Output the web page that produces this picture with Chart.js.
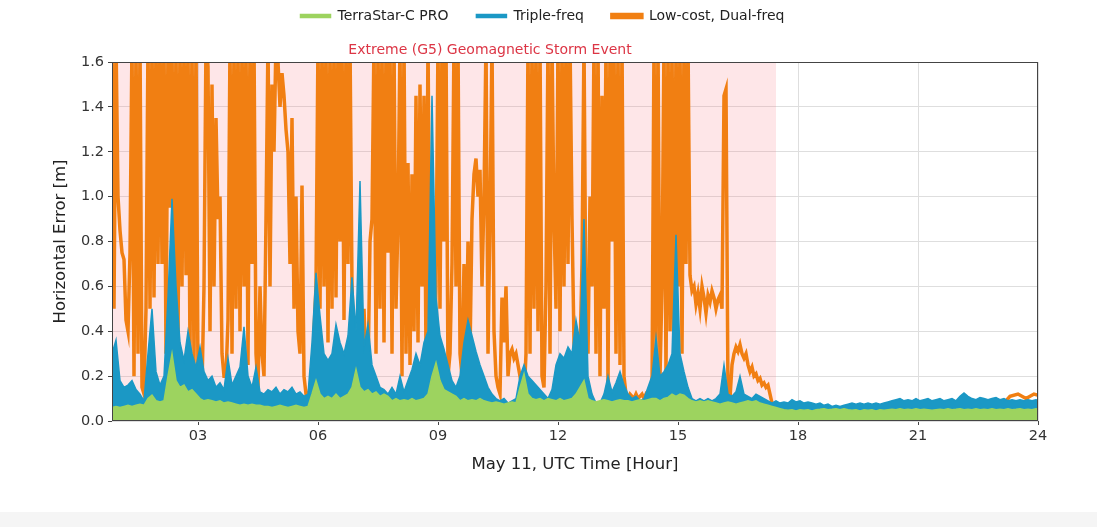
<!DOCTYPE html>
<html>
<head>
<meta charset="utf-8">
<script src="https://cdn.jsdelivr.net/npm/chart.js@4.4.1/dist/chart.umd.min.js"></script>
<style>
  html, body { margin: 0; padding: 0; background: #fff; }
  #wrap { width: 1097px; height: 527px; position: relative; }
</style>
</head>
<body>
<div id="wrap"><canvas id="errorChart"></canvas></div>
<script>
// x axis ticks (hours of May 11, UTC)
const xTickHours = [3, 6, 9, 12, 15, 18, 21, 24];
const stormStart = 0.85;
const stormEnd = 17.45;

// TerraStar-C PRO and Triple-freq, sampled every 0.1 h from 00:51
const gridStart = 0.85;
const gridStep = 0.1;
const terraStar = [
  0.06, 0.065, 0.06, 0.065, 0.07, 0.065, 0.07, 0.075, 0.07, 0.1,
  0.115, 0.09, 0.085, 0.09, 0.2, 0.3, 0.18, 0.15, 0.16, 0.13,
  0.14, 0.12, 0.1, 0.09, 0.095, 0.09, 0.085, 0.09, 0.08, 0.085,
  0.08, 0.075, 0.07, 0.075, 0.07, 0.075, 0.07, 0.07, 0.065, 0.065,
  0.06, 0.065, 0.07, 0.065, 0.06, 0.065, 0.07, 0.065, 0.06, 0.065,
  0.12, 0.18, 0.12, 0.1, 0.11, 0.1, 0.12, 0.1, 0.11, 0.12,
  0.15, 0.23, 0.15, 0.13, 0.14, 0.12, 0.13, 0.11, 0.12, 0.11,
  0.09, 0.1, 0.09, 0.095, 0.09, 0.1, 0.09, 0.095, 0.1, 0.12,
  0.2, 0.26, 0.18, 0.14, 0.13, 0.12, 0.11, 0.09, 0.1, 0.09,
  0.095, 0.09, 0.1, 0.09, 0.085, 0.08, 0.085, 0.08, 0.075, 0.08,
  0.085, 0.08, 0.15, 0.21, 0.12, 0.1, 0.095, 0.1, 0.09, 0.1,
  0.095, 0.09, 0.1, 0.09, 0.095, 0.1, 0.12, 0.15, 0.18, 0.1,
  0.09, 0.085, 0.09, 0.095, 0.09, 0.085, 0.09, 0.095, 0.09, 0.09,
  0.085, 0.09, 0.095, 0.09, 0.095, 0.1, 0.1, 0.09, 0.1, 0.105,
  0.12, 0.11, 0.12, 0.115, 0.1, 0.09, 0.085, 0.09, 0.085, 0.09,
  0.085, 0.08, 0.075, 0.08, 0.085, 0.08, 0.075, 0.08, 0.085, 0.09,
  0.085, 0.09, 0.08, 0.075, 0.07, 0.065, 0.06, 0.055, 0.05, 0.048,
  0.05, 0.045, 0.05, 0.048, 0.05, 0.045, 0.05, 0.052, 0.055, 0.05,
  0.052, 0.055, 0.05, 0.055, 0.05, 0.048, 0.05, 0.045, 0.05, 0.048,
  0.05, 0.045, 0.05, 0.048, 0.05, 0.052, 0.05, 0.055, 0.05, 0.052,
  0.05, 0.055, 0.05, 0.052, 0.05, 0.048, 0.05, 0.052, 0.05, 0.055,
  0.05, 0.052, 0.055, 0.05, 0.052, 0.05, 0.055, 0.05, 0.052, 0.05,
  0.055, 0.05, 0.052, 0.05, 0.055, 0.05, 0.052, 0.055, 0.05, 0.052,
  0.05, 0.055, 0.05
];
const tripleFreq = [
  0.3, 0.36, 0.18, 0.15, 0.16, 0.18, 0.14, 0.12, 0.09, 0.3,
  0.5, 0.22, 0.16, 0.2, 0.55, 0.99, 0.6, 0.35, 0.27, 0.4,
  0.3, 0.24, 0.33, 0.22, 0.18, 0.2, 0.15, 0.17, 0.14, 0.28,
  0.16, 0.2, 0.24, 0.42, 0.2, 0.15, 0.24, 0.13, 0.12, 0.14,
  0.13, 0.15, 0.12, 0.14, 0.13, 0.15, 0.12, 0.13, 0.11, 0.12,
  0.35, 0.66, 0.47, 0.3, 0.27, 0.3, 0.43, 0.35, 0.3, 0.38,
  0.64, 0.4, 1.07, 0.33, 0.43, 0.25, 0.2, 0.15, 0.14, 0.12,
  0.15, 0.12, 0.2, 0.13, 0.18, 0.23, 0.3, 0.25, 0.35, 0.4,
  1.45, 0.55, 0.38, 0.32, 0.25, 0.18, 0.15, 0.2, 0.35, 0.45,
  0.38, 0.31, 0.25, 0.2, 0.15, 0.12, 0.1, 0.09, 0.1, 0.08,
  0.09, 0.1, 0.2, 0.25, 0.2, 0.18, 0.16, 0.14, 0.12, 0.1,
  0.14, 0.25, 0.3, 0.28, 0.33, 0.3, 0.45, 0.35, 0.9, 0.2,
  0.12, 0.08, 0.08, 0.12, 0.2, 0.13, 0.17, 0.22, 0.16, 0.12,
  0.1, 0.11, 0.09, 0.1, 0.15, 0.2, 0.37, 0.2, 0.22, 0.25,
  0.3, 0.83, 0.3, 0.22, 0.15, 0.1, 0.09, 0.1, 0.09, 0.1,
  0.09, 0.1, 0.12, 0.25, 0.12, 0.11, 0.13, 0.2, 0.12, 0.11,
  0.1, 0.12, 0.11, 0.1, 0.09, 0.08, 0.09, 0.08, 0.085, 0.08,
  0.095, 0.085, 0.09, 0.08, 0.085, 0.08, 0.075, 0.08, 0.07, 0.075,
  0.065, 0.07, 0.065, 0.07, 0.075, 0.08, 0.075, 0.08, 0.075, 0.08,
  0.075, 0.08, 0.075, 0.08, 0.085, 0.09, 0.095, 0.1, 0.09, 0.095,
  0.09, 0.1, 0.09, 0.095, 0.1, 0.09, 0.095, 0.1, 0.09, 0.095,
  0.1, 0.09, 0.11, 0.125, 0.11, 0.1, 0.095, 0.105, 0.1, 0.095,
  0.1, 0.105, 0.095, 0.1, 0.09, 0.095, 0.09, 0.095, 0.09, 0.095,
  0.09, 0.095, 0.09
];

// Low-cost dual-freq: every 0.05 h during the storm, then every 0.2 h
const stormStep = 0.05;
const lowCostStorm = [
  1.7, 0.5, 1.7, 1.0, 0.85, 0.75, 0.72, 0.45, 0.4, 0.75,
  1.7, 0.2, 1.7, 0.3, 1.7, 0.15, 0.12, 0.5, 1.7, 0.5,
  1.7, 0.55, 1.7, 0.7, 1.7, 0.7, 1.7, 0.3, 1.7, 0.95,
  1.7, 0.4, 1.7, 0.35, 1.7, 0.6, 1.7, 0.65, 1.7, 0.3,
  1.7, 0.25, 1.7, 0.2, 0.18, 0.15, 0.6, 1.7, 1.58, 0.4,
  1.5, 0.6, 1.35, 0.9, 1.0, 0.3, 0.2, 0.2, 0.45, 1.7,
  0.3, 1.7, 0.5, 1.7, 0.4, 1.7, 0.6, 1.7, 0.25, 1.7,
  0.7, 1.7, 0.3, 0.15, 0.6, 0.3, 0.2, 0.9, 1.7, 0.6,
  1.5, 1.2, 1.7, 1.6, 1.4, 1.55, 1.45, 1.3, 1.2, 0.7,
  1.35, 0.5, 1.0, 0.4, 0.3, 1.05, 0.2, 0.12, 0.1, 0.15,
  0.12, 0.4, 0.6, 1.7, 0.5, 1.7, 0.6, 1.7, 0.35, 1.7,
  0.5, 1.7, 0.55, 1.7, 0.8, 1.7, 0.45, 1.7, 0.7, 1.7,
  0.6, 0.3, 0.2, 0.15, 0.15, 0.2, 0.5, 0.25, 0.2, 0.8,
  0.9, 1.7, 0.3, 1.7, 0.5, 1.7, 0.35, 1.7, 0.75, 1.7,
  0.3, 1.7, 0.5, 0.9, 1.7, 0.2, 1.7, 0.3, 1.15, 0.25,
  1.1, 0.4, 1.45, 0.35, 1.5, 0.6, 1.45, 0.3, 1.7, 0.5,
  0.2, 0.15, 0.6, 1.7, 0.5, 1.7, 0.8, 1.7, 0.2, 0.3,
  0.7, 1.7, 0.6, 1.7, 0.3, 0.2, 0.7, 0.25, 0.8, 0.3,
  0.9, 1.1, 1.17, 1.0, 1.12, 0.6, 1.0, 1.7, 0.3, 0.9,
  1.7, 0.4, 0.2, 0.15, 0.12, 0.55, 0.35, 0.6, 0.2, 0.3,
  0.32, 0.28, 0.3, 0.25, 0.2, 0.15, 0.1, 0.3, 1.7, 0.3,
  1.7, 0.5, 1.7, 0.4, 1.7, 0.2, 0.15, 0.6, 1.7, 0.3,
  1.7, 0.9, 0.5, 1.7, 0.4, 1.7, 0.6, 1.7, 0.7, 1.7,
  0.9, 0.35, 0.2, 0.15, 0.3, 0.7, 1.7, 0.4, 0.3, 1.0,
  0.6, 1.7, 0.3, 1.7, 0.2, 1.45, 0.5, 1.7, 0.15, 1.7,
  0.8, 1.7, 0.3, 1.7, 0.25, 1.7, 0.2, 0.12, 0.1, 0.12,
  0.11, 0.1, 0.12, 0.1, 0.11, 0.12, 0.1, 0.12, 0.11, 0.1,
  0.13, 1.7, 0.3, 1.7, 0.2, 0.6, 1.7, 0.2, 1.7, 0.4,
  1.7, 0.15, 1.7, 0.6, 1.7, 0.3, 1.7, 0.7, 1.7, 0.65,
  0.58, 0.6, 0.52, 0.57, 0.5, 0.6, 0.55, 0.48, 0.56, 0.53,
  0.58, 0.55, 0.5, 0.54, 0.56, 0.5, 1.45, 1.48, 0.12, 0.1,
  0.25, 0.3, 0.33, 0.31, 0.34, 0.3, 0.28, 0.3, 0.25, 0.22,
  0.24, 0.2, 0.21, 0.18, 0.19, 0.16, 0.17, 0.15, 0.16, 0.12,
  0.08, 0.06
];
const calmStart = 17.5;
const calmStep = 0.2;
const lowCostCalm = [
  0.06, 0.05, 0.045, 0.04, 0.045, 0.04, 0.045, 0.04, 0.05, 0.065,
  0.06, 0.04, 0.035, 0.04, 0.035, 0.04, 0.035, 0.04, 0.045, 0.04,
  0.045, 0.05, 0.045, 0.05, 0.045, 0.05, 0.055, 0.06, 0.07, 0.11,
  0.12, 0.1, 0.12, 0.11
];

const gridPoints = (vals) => vals.map((v, i) => ({ x: gridStart + i * gridStep, y: v }));
const lowCostPoints = lowCostStorm.map((v, i) => ({ x: gridStart + i * stormStep, y: v }))
  .concat(lowCostCalm.map((v, i) => ({ x: calmStart + i * calmStep, y: v })));

const green = '#9dd35f';
const blue = '#1b98c5';
const orange = '#f17f12';
const font = 'DejaVu Sans';

const stormShade = {
  id: 'stormShade',
  beforeDraw(chart) {
    const c = chart.ctx;
    c.save();
    c.fillStyle = '#f5f5f5';
    c.fillRect(0, 512, chart.width, chart.height - 512);
    c.restore();
  },
  beforeDatasetsDraw(chart) {
    const { ctx, chartArea, scales } = chart;
    const x0 = scales.x.getPixelForValue(stormStart);
    const x1 = scales.x.getPixelForValue(stormEnd);
    ctx.save();
    ctx.fillStyle = 'rgba(248, 130, 142, 0.2)';
    ctx.fillRect(x0, chartArea.top, x1 - x0, chartArea.bottom - chartArea.top);
    ctx.fillStyle = '#dc3545';
    ctx.font = '14px "' + font + '"';
    ctx.textAlign = 'center';
    ctx.textBaseline = 'alphabetic';
    ctx.fillText('Extreme (G5) Geomagnetic Storm Event', scales.x.getPixelForValue(10.3), chartArea.top - 8);
    ctx.restore();
  },
  afterDatasetsDraw(chart) {
    const { ctx, chartArea } = chart;
    ctx.save();
    ctx.strokeStyle = '#444';
    ctx.lineWidth = 1;
    ctx.strokeRect(Math.round(chartArea.left) + 0.5, Math.round(chartArea.top) + 0.5,
      Math.round(chartArea.right - chartArea.left) - 1, Math.round(chartArea.bottom - chartArea.top) - 1);
    ctx.restore();
  }
};

// make room between the legend and the storm label
const legendGap = {
  id: 'legendGap',
  beforeLayout(chart) {
    if (chart.legend && !chart.legend._gapDone) {
      const fitLegend = chart.legend.fit;
      chart.legend.fit = function () {
        fitLegend.call(this);
        this.height = 81;
      };
      chart.legend._gapDone = true;
    }
  }
};

new Chart(document.getElementById('errorChart'), {
  type: 'line',
  data: {
    datasets: [
      {
        label: 'TerraStar-C PRO',
        data: gridPoints(terraStar),
        borderColor: green,
        backgroundColor: green,
        borderWidth: 1.5,
        fill: 'origin'
      },
      {
        label: 'Triple-freq',
        data: gridPoints(tripleFreq),
        borderColor: blue,
        backgroundColor: blue,
        borderWidth: 1.5,
        fill: 'origin'
      },
      {
        label: 'Low-cost, Dual-freq',
        data: lowCostPoints,
        borderColor: orange,
        backgroundColor: orange,
        borderWidth: 3.5,
        fill: false
      }
    ]
  },
  options: {
    responsive: true,
    maintainAspectRatio: false,
    animation: false,
    layout: { padding: { top: -19, left: 47, right: 59, bottom: 48 } },
    elements: { point: { radius: 0 }, line: { tension: 0 } },
    datasets: { line: { clip: 0 } },
    scales: {
      x: {
        type: 'linear',
        min: 0.85,
        max: 24,
        afterBuildTicks: (s) => { s.ticks = xTickHours.map(v => ({ value: v })); },
        afterFit: (s) => { s.height = 58; },
        ticks: {
          callback: (v) => String(v).padStart(2, '0'),
          font: { family: font, size: 14.5 },
          color: '#333',
          padding: 3,
          maxRotation: 0,
          autoSkip: false
        },
        grid: { color: '#dedede', tickColor: '#444', tickLength: 4 },
        border: { display: false },
        title: {
          display: true,
          text: 'May 11, UTC Time [Hour]',
          font: { family: font, size: 16.5 },
          color: '#222',
          padding: { top: 4, bottom: 4 }
        }
      },
      y: {
        min: 0,
        max: 1.6,
        afterFit: (s) => { s.width = 65; },
        ticks: {
          stepSize: 0.2,
          callback: (v) => v.toFixed(1),
          font: { family: font, size: 14.5 },
          color: '#333',
          padding: 4
        },
        grid: { color: '#dedede', tickColor: '#444', tickLength: 4 },
        border: { display: false },
        title: {
          display: true,
          text: 'Horizontal Error [m]',
          font: { family: font, size: 16.5 },
          color: '#222',
          padding: { top: 4, bottom: 4 }
        }
      }
    },
    plugins: {
      legend: {
        position: 'top',
        labels: {
          boxWidth: 30,
          boxHeight: 3,
          padding: 28,
          color: '#222',
          font: { family: font, size: 14 }
        }
      },
      tooltip: { enabled: false }
    }
  },
  plugins: [stormShade, legendGap]
});
</script>
</body>
</html>
